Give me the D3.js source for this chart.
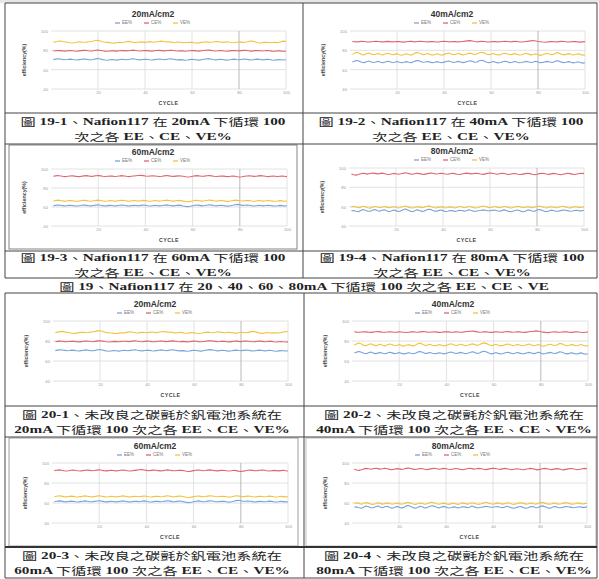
<!DOCTYPE html>
<html><head><meta charset="utf-8">
<script src="https://cdn.jsdelivr.net/npm/d3@7/dist/d3.min.js"></script>
<style>
body{margin:0;background:#fff}
svg{display:block}
</style></head><body>
<svg id="page" width="599" height="579"></svg>
<script>
// Cycle numbers on the x axis
const cycles = d3.range(1, 101);
const xTicks = [20, 40, 60, 80, 100];
const yTicks = [40, 60, 80, 100];
const seriesNames = ["EE%", "CE%", "VE%"];
const seriesColors = ["#79a3da", "#e0636f", "#f2c33a"];
const densities = ["20mA/cm2", "40mA/cm2", "60mA/cm2", "80mA/cm2"];

// Efficiencies per cycle, 20 mA/cm2
const ee20 = [70.4,70.9,71.3,71.0,70.6,70.2,70.5,70.9,70.6,70.2,70.0,70.4,70.8,71.1,70.8,70.4,70.2,70.6,71.2,71.5,71.0,70.4,70.0,69.8,70.2,70.5,70.2,69.9,70.3,70.7,70.5,70.2,70.6,71.0,71.3,70.8,70.4,70.1,70.5,70.8,70.6,70.2,70.0,70.4,70.8,71.1,70.7,70.3,70.6,71.0,71.2,70.8,70.4,70.1,70.4,70.1,69.8,70.0,70.4,70.8,70.5,70.1,69.9,70.3,70.7,71.1,71.4,71.0,70.5,70.1,70.4,70.8,70.5,70.1,69.9,70.2,70.6,70.9,70.5,70.2,70.6,71.0,70.8,70.4,70.0,70.3,70.6,70.9,70.5,70.1,70.4,70.8,70.5,70.0,69.8,70.1,70.4,70.2,70.0,70.3];
const ce20 = [79.3,79.6,79.9,79.7,79.4,79.2,79.5,79.8,79.6,79.3,79.1,79.4,79.7,80.0,79.8,79.5,79.3,79.6,80.1,80.3,79.9,79.5,79.2,79.0,79.3,79.6,79.4,79.2,79.5,79.8,79.7,79.4,79.6,79.9,80.2,79.8,79.5,79.3,79.6,79.9,79.7,79.4,79.2,79.5,79.8,80.0,79.7,79.4,79.6,79.9,80.1,79.8,79.5,79.3,79.6,79.4,79.1,79.3,79.6,79.9,79.7,79.4,79.2,79.5,79.8,80.1,80.3,80.0,79.6,79.3,79.5,79.8,79.6,79.3,79.1,79.4,79.7,79.9,79.6,79.4,79.7,80.0,79.8,79.5,79.2,79.4,79.7,79.9,79.6,79.3,79.5,79.8,79.6,79.2,79.0,79.3,79.5,79.2,79.0,79.1];
const ve20 = [88.2,88.9,89.4,89.6,89.1,88.7,88.3,87.8,87.6,87.9,88.4,88.8,88.6,88.3,88.5,88.9,89.2,89.6,90.1,90.3,89.7,88.9,88.4,88.2,88.0,87.6,87.5,87.9,88.3,88.1,88.4,88.9,89.3,88.8,88.2,88.0,88.4,88.7,88.5,88.2,88.6,89.0,88.7,88.4,88.8,89.2,89.5,89.1,88.7,88.9,88.5,88.1,88.3,88.7,88.4,88.0,87.8,88.1,88.4,88.2,87.8,87.5,87.7,88.2,88.6,88.9,88.5,88.3,88.7,89.2,89.0,88.6,88.2,88.5,88.8,88.4,88.1,87.9,88.3,88.7,88.5,88.2,88.6,89.1,89.6,89.3,88.6,87.9,87.6,88.0,88.4,88.2,87.9,88.1,88.3,88.0,88.4,89.0,89.5,89.2];

// Efficiencies per cycle, 40 mA/cm2
const ee40 = [67.9,68.9,69.5,68.7,67.7,67.3,68.2,68.9,67.9,67.4,67.9,68.6,67.7,67.2,68.0,68.7,68.1,67.4,67.7,68.4,67.6,67.1,67.6,68.3,67.7,67.3,68.1,69.1,69.5,68.4,67.6,67.9,68.5,67.8,67.3,67.6,68.3,67.7,67.1,67.8,68.5,69.0,68.2,67.5,67.9,68.6,68.0,67.3,67.8,68.5,69.3,68.6,67.6,68.0,69.2,69.8,69.0,67.9,67.1,67.6,68.4,67.6,67.0,67.5,68.2,68.8,68.1,67.3,67.7,68.5,67.9,67.2,67.4,68.0,68.6,68.0,67.4,67.9,68.7,67.9,67.1,67.5,68.1,68.6,68.0,67.5,68.1,69.3,68.8,67.8,67.1,67.6,68.3,67.6,67.0,67.4,68.1,67.4,66.8,67.2];
const ce40 = [89.2,88.9,88.7,89.0,89.3,89.1,88.8,88.6,88.9,89.2,89.4,89.1,88.8,88.7,89.0,89.3,89.0,88.7,88.9,89.2,89.0,88.7,88.5,88.8,89.1,89.3,89.0,88.8,89.1,89.4,89.2,88.9,88.7,89.0,89.2,88.9,88.6,88.8,89.1,89.3,89.1,88.8,88.9,89.2,89.0,88.7,88.9,89.2,89.5,89.8,90.0,89.6,89.1,88.8,89.0,89.3,89.1,88.8,88.6,88.9,89.2,89.0,88.7,88.9,89.2,89.4,89.1,88.8,89.0,89.3,89.1,88.8,88.6,88.9,89.2,89.5,89.8,90.1,89.7,89.2,88.9,88.6,88.4,88.7,89.0,89.2,88.9,88.7,89.0,89.3,89.1,88.8,88.6,88.9,89.2,89.0,88.7,88.5,88.8,89.0];
const ve40 = [75.8,77.2,78.0,76.9,75.6,75.2,76.4,77.3,76.1,75.4,75.9,76.8,75.7,75.1,76.2,77.0,76.3,75.5,75.8,76.6,75.4,74.9,75.7,76.5,75.6,75.0,76.1,77.4,77.9,76.6,75.5,75.9,76.7,75.8,75.2,75.6,76.4,75.7,75.0,75.8,76.6,77.2,76.3,75.5,75.9,76.8,76.1,75.3,75.7,76.5,77.1,76.4,75.6,76.3,77.5,78.1,77.4,76.2,75.4,75.9,76.7,75.8,75.1,75.6,76.4,77.0,76.2,75.4,75.8,76.6,76.0,75.2,75.5,76.3,76.9,76.1,75.3,75.7,76.5,75.6,74.8,75.4,76.2,76.8,76.0,75.5,76.3,77.6,77.1,76.0,75.3,75.8,76.6,75.9,75.2,75.7,76.5,75.8,75.0,75.4];

// Efficiencies per cycle, 60 mA/cm2
const ee60 = [61.3,61.7,62.1,61.9,61.4,61.1,61.5,61.9,61.6,61.2,61.0,61.4,61.8,62.1,61.7,61.3,61.2,61.6,62.0,62.3,61.9,61.4,61.1,61.4,61.7,61.5,61.1,61.4,61.8,62.1,61.8,61.4,61.1,61.4,61.8,61.6,61.3,61.7,62.1,61.8,61.3,61.0,61.4,61.8,61.6,61.2,61.5,61.9,62.2,61.9,61.4,61.2,61.6,62.0,61.7,61.1,60.6,60.4,60.8,61.3,61.8,62.1,61.7,61.2,61.5,61.9,62.3,62.0,61.5,61.2,61.5,61.8,61.6,61.2,60.9,61.3,61.8,62.4,62.8,62.3,61.7,61.8,62.0,61.8,61.4,61.0,61.4,61.8,61.5,61.2,61.5,61.9,61.6,61.2,61.0,61.3,61.7,61.4,61.1,61.3];
const ce60 = [92.4,92.8,93.1,92.7,92.3,92.0,92.3,92.7,92.9,92.5,92.2,92.0,92.4,92.8,93.0,92.6,92.2,92.5,92.9,93.2,92.8,92.4,92.1,92.4,92.7,92.5,92.1,92.3,92.7,93.0,92.7,92.3,92.0,92.3,92.6,92.9,93.2,93.4,93.0,92.6,92.3,92.6,92.9,92.7,92.4,92.1,92.4,92.8,93.1,92.8,92.4,92.2,92.5,92.8,92.6,92.3,91.8,91.5,91.9,92.4,92.8,93.0,92.7,92.3,92.5,92.9,93.1,92.8,92.4,92.1,92.4,92.7,92.5,92.2,92.0,92.3,92.7,92.4,91.9,91.6,91.9,92.3,92.7,92.9,92.6,92.2,92.4,92.8,93.0,92.7,92.3,92.0,92.3,92.6,92.4,92.1,92.4,92.7,92.3,92.0];
const ve60 = [66.3,66.8,67.2,66.9,66.4,66.1,66.5,66.9,66.6,66.2,66.0,66.4,66.8,67.1,66.7,66.3,66.1,66.5,66.9,67.2,66.8,66.4,66.0,66.3,66.7,66.5,66.1,66.4,66.8,67.1,66.8,66.4,66.1,66.4,66.8,66.5,66.2,66.6,67.0,66.7,66.3,66.0,66.4,66.8,66.6,66.2,66.5,66.9,67.2,66.8,66.4,66.2,66.6,67.0,66.7,66.2,65.7,65.5,65.9,66.4,66.8,67.0,66.6,66.2,66.5,66.9,67.3,67.0,66.5,66.2,66.5,66.8,66.6,66.2,65.9,66.3,66.8,67.2,67.0,66.6,66.3,66.6,66.9,66.7,66.3,66.0,66.4,66.8,66.5,66.2,66.5,66.9,66.6,66.2,66.0,66.3,66.7,66.4,66.1,66.3];

// Efficiencies per cycle, 80 mA/cm2
const ee80 = [55.7,56.1,55.2,54.8,56.0,57.1,56.2,55.2,55.2,56.2,57.1,56.0,55.3,56.3,56.7,55.7,54.8,55.6,56.6,55.9,54.9,55.6,56.9,57.6,56.5,55.4,54.8,55.7,56.7,56.0,55.1,55.4,56.5,57.3,56.9,55.8,55.1,55.9,56.6,55.9,55.0,55.3,56.1,55.9,55.1,55.5,56.3,56.1,55.4,55.8,56.9,56.1,55.4,55.3,55.8,56.1,56.7,56.3,55.7,55.8,56.2,56.5,55.7,55.3,55.9,56.7,56.0,55.1,54.8,55.6,56.3,56.4,55.4,54.8,55.3,56.5,56.4,55.4,55.3,56.5,57.1,56.4,55.4,54.7,55.4,56.4,56.1,55.3,55.2,55.9,56.5,56.3,55.9,55.3,55.5,56.0,56.3,55.6,55.6,56.3];
const ce80 = [93.8,93.0,92.6,93.2,94.1,94.6,94.2,93.7,94.3,94.8,94.4,93.9,94.2,94.7,94.3,93.6,93.2,93.8,94.4,94.1,93.6,94.0,94.6,95.0,94.5,93.9,93.5,94.0,94.5,94.2,93.7,93.4,93.9,94.4,94.8,94.3,93.8,94.1,94.6,94.3,93.8,93.5,94.0,94.5,94.2,93.6,93.3,93.8,94.3,94.7,94.4,93.9,94.2,94.6,94.3,93.8,93.4,93.9,94.4,94.8,94.5,94.0,93.6,94.1,94.6,94.3,93.7,93.3,93.8,94.3,94.0,93.5,93.2,93.7,94.2,94.6,94.2,93.6,93.1,93.6,94.2,94.6,94.3,93.8,93.4,93.9,94.4,94.1,93.5,93.1,93.6,94.1,94.5,94.2,93.7,93.3,93.8,94.3,94.6,94.2];
const ve80 = [59.4,60.3,59.6,58.8,59.5,60.4,59.7,58.9,58.5,59.3,60.2,59.6,58.9,59.4,60.1,59.5,58.8,59.3,60.0,59.4,58.7,59.2,60.1,60.6,59.8,59.0,58.6,59.2,60.0,59.5,58.8,59.3,60.2,60.8,60.0,59.2,58.7,59.3,59.9,59.3,58.6,59.1,59.8,59.2,58.6,59.3,60.1,59.6,58.9,59.4,60.2,59.7,59.0,58.6,59.2,59.9,60.7,60.1,59.3,58.8,59.4,60.1,59.5,58.9,59.4,60.2,59.7,59.0,58.6,59.2,59.9,60.3,59.6,58.9,59.3,60.0,59.5,58.8,59.4,60.2,60.6,59.9,59.1,58.7,59.3,60.0,59.4,58.8,59.2,59.9,60.4,59.8,59.1,58.7,59.3,60.0,59.6,59.0,59.4,59.8];

const runsByDensity = [[ee20, ce20, ve20], [ee40, ce40, ve40], [ee60, ce60, ve60], [ee80, ce80, ve80]];

// Caption text
const captions19 = [
  ["圖 19-1、Nafion117 在 20mA 下循環 100", "次之各 EE、CE、VE%"],
  ["圖 19-2、Nafion117 在 40mA 下循環 100", "次之各 EE、CE、VE%"],
  ["圖 19-3、Nafion117 在 60mA 下循環 100", "次之各 EE、CE、VE%"],
  ["圖 19-4、Nafion117 在 80mA 下循環 100", "次之各 EE、CE、VE%"]
];
const figure19Title = "圖 19、Nafion117 在 20、40、60、80mA 下循環 100 次之各 EE、CE、VE";
const captions20 = [
  ["圖 20-1、未改良之碳氈於釩電池系統在", "20mA 下循環 100 次之各 EE、CE、VE%"],
  ["圖 20-2、未改良之碳氈於釩電池系統在", "40mA 下循環 100 次之各 EE、CE、VE%"],
  ["圖 20-3、未改良之碳氈於釩電池系統在", "60mA 下循環 100 次之各 EE、CE、VE%"],
  ["圖 20-4、未改良之碳氈於釩電池系統在", "80mA 下循環 100 次之各 EE、CE、VE%"]
];

// Panel placement: plot box and centre of each panel cell
const panels = [
  {d: 0, left: 51,  right: 286, top: 31,  bottom: 89,  cx: 153},
  {d: 1, left: 350, right: 585, top: 31,  bottom: 89,  cx: 452},
  {d: 2, left: 51,  right: 287, top: 169, bottom: 226, cx: 153},
  {d: 3, left: 349, right: 584, top: 168, bottom: 226, cx: 452},
  {d: 0, left: 53,  right: 288, top: 321, bottom: 381, cx: 155},
  {d: 1, left: 352, right: 588, top: 321, bottom: 381, cx: 453},
  {d: 2, left: 52,  right: 288, top: 463, bottom: 523, cx: 155},
  {d: 3, left: 352, right: 587, top: 463, bottom: 523, cx: 453}
];

const svg = d3.select("#page");
svg.append("rect").attr("width", 599).attr("height", 579).attr("fill", "#fff");
svg.append("rect").attr("width", 599).attr("height", 3).attr("fill", "#e6e6e6");

const SANS = "'Liberation Sans', Arial, sans-serif";

function drawPanel(p) {
  const g = svg.append("g");
  const x = d3.scaleLinear().domain([0, 100]).range([p.left, p.right]);
  const y = d3.scaleLinear().domain([40, 100]).range([p.bottom, p.top]);

  // grid
  g.selectAll(null).data(yTicks).join("line")
    .attr("x1", x(0)).attr("x2", x(100))
    .attr("y1", d => y(d)).attr("y2", d => y(d))
    .attr("stroke", "#dadada").attr("stroke-width", 0.8);
  g.selectAll(null).data(xTicks).join("line")
    .attr("x1", d => x(d)).attr("x2", d => x(d))
    .attr("y1", y(40)).attr("y2", y(100))
    .attr("stroke", d => d === 80 ? "#a8a8a8" : "#dadada").attr("stroke-width", 0.8);

  // tick labels
  const ay = g.append("g").attr("transform", `translate(${x(0) - 3},0)`)
    .call(d3.axisLeft(y).tickValues(yTicks).tickSize(0).tickPadding(0));
  const ax = g.append("g").attr("transform", `translate(0,${y(40) + 2})`)
    .call(d3.axisBottom(x).tickValues(xTicks).tickSize(0).tickPadding(0));
  [ay, ax].forEach(a => {
    a.select(".domain").remove();
    a.selectAll("text").attr("font-size", 4.2).attr("fill", "#9a9a9a").attr("font-family", SANS);
  });

  // series lines
  const line = d3.line().x((d, i) => x(cycles[i])).y(d => y(d));
  runsByDensity[p.d].forEach((vals, k) => {
    g.append("path").datum(vals).attr("d", line)
      .attr("fill", "none").attr("stroke", seriesColors[k]).attr("stroke-width", 1.1)
      .attr("stroke-linejoin", "round");
  });

  // title
  g.append("text").attr("x", p.cx).attr("y", p.top - 16).attr("text-anchor", "middle")
    .attr("dominant-baseline", "middle").attr("font-family", SANS).attr("font-weight", "bold")
    .attr("font-size", 8.5).attr("fill", "#333").text(densities[p.d]);

  // legend
  seriesNames.forEach((name, k) => {
    const sx = p.cx - 38 + k * 29;
    g.append("line").attr("x1", sx).attr("x2", sx + 5).attr("y1", p.top - 8).attr("y2", p.top - 8)
      .attr("stroke", seriesColors[k]).attr("stroke-width", 1.3);
    g.append("text").attr("x", sx + 7).attr("y", p.top - 8).attr("dominant-baseline", "middle")
      .attr("font-family", SANS).attr("font-size", 4.5).attr("fill", "#777").text(name);
  });

  // axis titles
  g.append("text").attr("transform", `translate(${p.left - 26},${(p.top + p.bottom) / 2}) rotate(-90)`)
    .attr("text-anchor", "middle").attr("dominant-baseline", "middle")
    .attr("font-family", SANS).attr("font-weight", "bold").attr("font-size", 5.3).attr("fill", "#444")
    .text("efficiency(%)");
  g.append("text").attr("x", (p.left + p.right) / 2).attr("y", p.bottom + 15)
    .attr("text-anchor", "middle").attr("dominant-baseline", "middle")
    .attr("font-family", SANS).attr("font-weight", "bold").attr("font-size", 5.3)
    .attr("letter-spacing", 0.4).attr("fill", "#444").text("CYCLE");
}

// Table rules
function rule(x1, y1, x2, y2, w, c) {
  svg.append("line").attr("x1", x1).attr("y1", y1).attr("x2", x2).attr("y2", y2)
    .attr("stroke", c || "#444").attr("stroke-width", w || 1);
}
function frame(x, y, w, h, c) {
  svg.append("rect").attr("x", x).attr("y", y).attr("width", w).attr("height", h)
    .attr("fill", "none").attr("stroke", c || "#777").attr("stroke-width", 0.8);
}

// chart image frames
frame(9, 145, 288, 104, "#666");
frame(9, 438, 289, 108, "#888");
frame(306, 438, 290, 108, "#aaa");

// figure 19 table
rule(5, 3, 597, 3); rule(5, 278, 597, 278);
rule(5, 3, 5, 278); rule(597, 3, 597, 278);
rule(303, 3, 303, 278);
rule(5, 113, 597, 113); rule(5, 144, 597, 144);
rule(5, 251, 597, 251);

// figure 20 table
rule(5, 293, 597, 293); rule(5, 578, 597, 578);
rule(5, 293, 5, 578); rule(597, 293, 597, 578);
rule(304, 293, 304, 578);
rule(5, 406, 597, 406); rule(5, 437, 597, 437);
rule(5, 547, 597, 547, 2, "#333");

panels.forEach(drawPanel);

// Mixed-script caption: Latin in bold serif, CJK in regular Noto Sans CJK,
// set in a wide, short face
const cjk = /[\u3000-\u303f\u4e00-\u9fff\uff00-\uffef]+|[^\u3000-\u303f\u4e00-\u9fff\uff00-\uffef]+/g;
function caption(str, cx, cy) {
  const t = svg.append("text")
    .attr("transform", `translate(${cx},${cy}) scale(1.45,1)`)
    .attr("text-anchor", "middle").attr("dominant-baseline", "central")
    .attr("font-size", 10.5).attr("fill", "#222");
  str.match(cjk).forEach(run => {
    const isCjk = /[\u3000-\u303f\u4e00-\u9fff\uff00-\uffef]/.test(run);
    t.append("tspan")
      .attr("font-family", isCjk ? "'Noto Sans CJK TC', sans-serif" : "'Liberation Serif', 'Times New Roman', serif")
      .attr("font-weight", isCjk ? "normal" : "bold")
      .text(run);
  });
}

const cap19Pos = [[153, 121, 136], [451, 121, 136], [153, 257, 272], [452, 257, 272]];
captions19.forEach((c, i) => {
  caption(c[0], cap19Pos[i][0], cap19Pos[i][1]);
  caption(c[1], cap19Pos[i][0], cap19Pos[i][2]);
});
caption(figure19Title, 304, 286);

const cap20Pos = [[152, 414, 429], [454, 414, 429], [152, 555, 570], [454, 555, 570]];
captions20.forEach((c, i) => {
  caption(c[0], cap20Pos[i][0], cap20Pos[i][1]);
  caption(c[1], cap20Pos[i][0], cap20Pos[i][2]);
});
</script>
</body></html>
